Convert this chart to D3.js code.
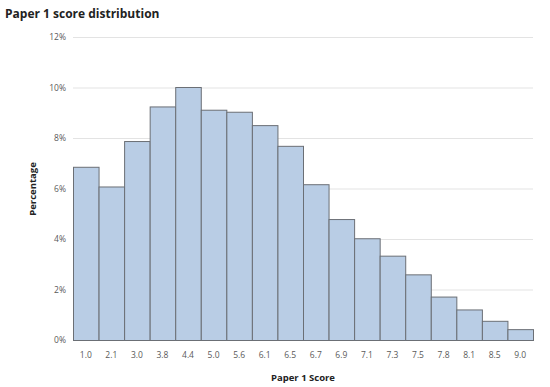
<!DOCTYPE html>
<html><head><meta charset="utf-8">
<script src="https://cdn.jsdelivr.net/npm/d3@7"></script>
<style>body{margin:0;background:#fff}svg{display:block}</style>
</head><body>
<svg id="c" width="550" height="387"></svg>
<script>
const categories = ["1.0","2.1","3.0","3.8","4.4","5.0","5.6","6.1","6.5","6.7","6.9","7.1","7.3","7.5","7.8","8.1","8.5","9.0"];
const values = [6.86,6.08,7.88,9.25,10.02,9.12,9.04,8.51,7.69,6.17,4.79,4.03,3.34,2.6,1.72,1.21,0.76,0.43];
const yTicks = [0,2,4,6,8,10,12];

const svg = d3.select("#c");
const m = {l:73, r:533, t:37, b:340};
const font = "'Open Sans', 'Liberation Sans', sans-serif";
const x = d3.scaleBand().domain(categories).range([m.l, m.r]).padding(0);
const y = d3.scaleLinear().domain([0,12]).range([m.b, m.t]);

svg.append("g").selectAll("line").data(yTicks).join("line")
  .attr("x1", m.l).attr("x2", m.r)
  .attr("y1", d=>y(d)+0.5).attr("y2", d=>y(d)+0.5)
  .attr("stroke", "#e3e3e3").attr("stroke-width", 1);

svg.append("g").selectAll("text").data(yTicks).join("text")
  .attr("x", 66).attr("y", d=>y(d)+3)
  .attr("text-anchor","end").attr("font-family", font).attr("font-size", 8.5)
  .attr("fill", "#595959").text(d=>d+"%");

svg.append("g").selectAll("rect").data(values).join("rect")
  .attr("x", (d,i)=>x(categories[i])+0.5)
  .attr("y", d=>y(d)+0.5)
  .attr("width", x.bandwidth())
  .attr("height", d=>m.b - y(d))
  .attr("fill", "#b9cde5").attr("stroke", "#6b6f75").attr("stroke-width", 1);

svg.append("g").selectAll("text").data(categories).join("text")
  .attr("x", d=>x(d)+x.bandwidth()/2).attr("y", 358)
  .attr("text-anchor","middle").attr("font-family", font).attr("font-size", 8.5)
  .attr("fill", "#595959").text(d=>d);

svg.append("text").attr("x", 5).attr("y", 18)
  .attr("font-family", font).attr("font-size", 12).attr("font-weight","bold")
  .attr("fill","#222").text("Paper 1 score distribution");

svg.append("text").attr("x", 303).attr("y", 381).attr("text-anchor","middle")
  .attr("font-family", font).attr("font-size", 9.5).attr("font-weight","bold")
  .attr("fill","#222").text("Paper 1 Score");

svg.append("text").attr("transform","translate(36,189) rotate(-90)").attr("text-anchor","middle")
  .attr("font-family", font).attr("font-size", 9.5).attr("font-weight","bold")
  .attr("fill","#222").text("Percentage");
</script>
</body></html>
